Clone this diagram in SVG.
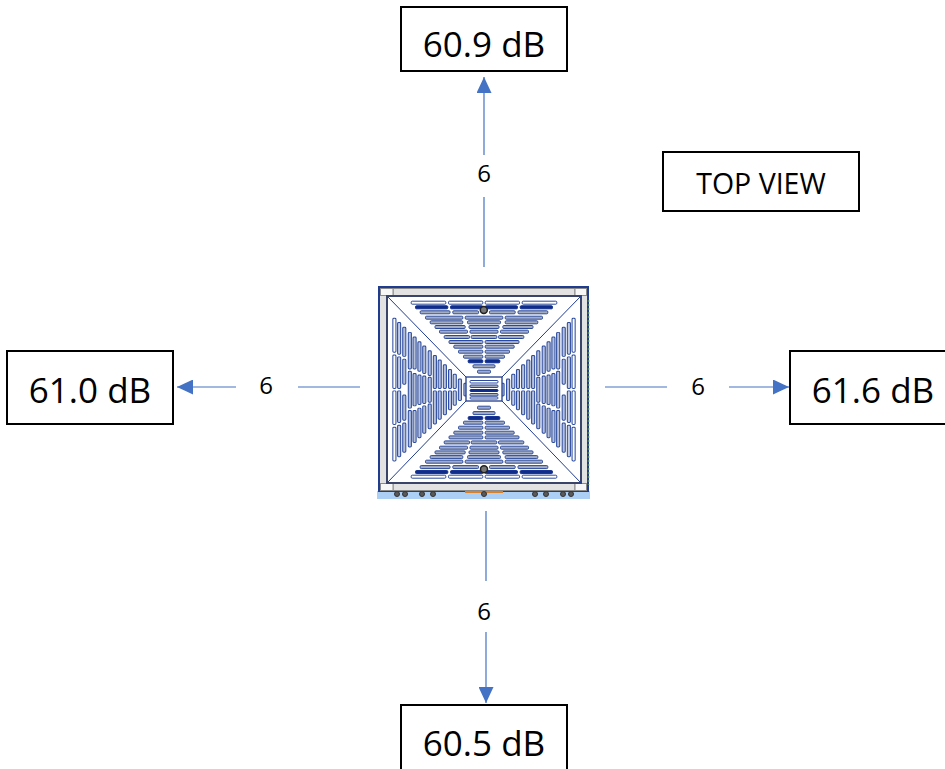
<svg xmlns="http://www.w3.org/2000/svg" xmlns:xlink="http://www.w3.org/1999/xlink" width="945" height="769" viewBox="0 0 945 769">
<style>
.box{fill:#fff;stroke:#000;stroke-width:2}
.val{font-family:"Open Sans","Noto Sans","Liberation Sans",sans-serif;font-size:35px;fill:#000;text-anchor:middle}
.lab{font-family:"Open Sans","Noto Sans","Liberation Sans",sans-serif;font-size:24px;fill:#000;text-anchor:middle}
.tv{font-family:"Open Sans","Noto Sans","Liberation Sans",sans-serif;font-size:28.5px;fill:#000;text-anchor:middle}
.ln{stroke:#4472c4;stroke-width:1.2;fill:none}
.s{fill:var(--g,#a4acc0);stroke:#2b4a9e;stroke-width:1}
.w{fill:#fff;stroke:#2b4a9e;stroke-width:1}
.d{fill:var(--k,#0f2d8c);stroke:var(--e,#0f2d8c);stroke-width:1}
.frame{fill:#e2e2e2;stroke:#8a8a8a;stroke-width:1}
.dg{stroke:#1f3c8f;stroke-width:1;fill:none}
.foot{fill:#5a5a5a;stroke:#333;stroke-width:1}
.side{--g:#b6c0d8;--k:#c4cde0;--e:#2b4a9e}
</style>
<defs>
<marker id="ah" markerUnits="userSpaceOnUse" markerWidth="16" markerHeight="15" refX="16" refY="7.5" orient="auto"><path d="M0 0L16 7.5L0 15Z" fill="#4472c4"/></marker>
<g id="tri">
<rect class="w" x="-72.8" y="-88.5" width="34.6" height="3" rx="1"/><rect class="w" x="-35.5" y="-88.5" width="34.3" height="3" rx="1"/><rect class="w" x="1.2" y="-88.5" width="34.3" height="3" rx="1"/><rect class="w" x="38.2" y="-88.5" width="34.6" height="3" rx="1"/>
<rect class="d" x="-68.5" y="-83.9" width="32.3" height="3" rx="1"/><rect class="d" x="-33.5" y="-83.9" width="32.3" height="3" rx="1"/><rect class="d" x="1.2" y="-83.9" width="32.3" height="3" rx="1"/><rect class="d" x="36.2" y="-83.9" width="32.3" height="3" rx="1"/>
<rect class="s" x="-63.8" y="-78.9" width="29.8" height="3" rx="1"/><rect class="s" x="-31.2" y="-78.9" width="25.7" height="3" rx="1"/><rect class="s" x="5.5" y="-78.9" width="25.7" height="3" rx="1"/><rect class="s" x="34" y="-78.9" width="29.8" height="3" rx="1"/>
<rect class="s" x="-58.5" y="-73.5" width="37.3" height="3" rx="1"/><rect class="s" x="-18.8" y="-73.5" width="37.6" height="3" rx="1"/><rect class="s" x="21.2" y="-73.5" width="37.3" height="3" rx="1"/>
<rect class="s" x="-53.8" y="-68.9" width="32.6" height="3" rx="1"/><rect class="s" x="-16.5" y="-68.9" width="33" height="3" rx="1"/><rect class="s" x="21.2" y="-68.9" width="32.6" height="3" rx="1"/>
<rect class="s" x="-49" y="-64.2" width="30.2" height="3" rx="1"/><rect class="s" x="-15" y="-64.2" width="30" height="3" rx="1"/><rect class="s" x="18.8" y="-64.2" width="30.2" height="3" rx="1"/>
<rect class="s" x="-44.5" y="-59.5" width="28" height="3" rx="1"/><rect class="s" x="-14" y="-59.5" width="28" height="3" rx="1"/><rect class="s" x="16.5" y="-59.5" width="28" height="3" rx="1"/>
<rect class="s" x="-39.8" y="-54.2" width="25.3" height="3" rx="1"/><rect class="s" x="-12.8" y="-54.2" width="25.6" height="3" rx="1"/><rect class="s" x="14.5" y="-54.2" width="25.3" height="3" rx="1"/>
<rect class="s" x="-35" y="-49.2" width="33.8" height="3" rx="1"/><rect class="s" x="1.2" y="-49.2" width="33.8" height="3" rx="1"/>
<rect class="s" x="-30.2" y="-44.5" width="29" height="3" rx="1"/><rect class="s" x="1.2" y="-44.5" width="29" height="3" rx="1"/>
<rect class="s" x="-25.5" y="-39.5" width="24.3" height="3" rx="1"/><rect class="s" x="1.2" y="-39.5" width="24.3" height="3" rx="1"/>
<rect class="s" x="-20.5" y="-34.5" width="19.3" height="3" rx="1"/><rect class="s" x="1.2" y="-34.5" width="19.3" height="3" rx="1"/>
<rect class="d" x="-15.8" y="-29.9" width="14.6" height="3" rx="1"/><rect class="d" x="1.2" y="-29.9" width="14.6" height="3" rx="1"/>
<rect class="s" x="-11" y="-24.9" width="22" height="3" rx="1"/>
<rect class="s" x="-6.5" y="-19.5" width="13" height="3" rx="1"/>
</g>
</defs>

<g id="connectors">
<line class="ln" x1="484" y1="267" x2="484" y2="197"/>
<line class="ln" x1="484" y1="155" x2="484" y2="77" marker-end="url(#ah)"/>
<line class="ln" x1="360" y1="387" x2="298" y2="387"/>
<line class="ln" x1="236" y1="387" x2="177" y2="387" marker-end="url(#ah)"/>
<line class="ln" x1="605" y1="387" x2="667" y2="387"/>
<line class="ln" x1="729" y1="387" x2="789" y2="387" marker-end="url(#ah)"/>
<line class="ln" x1="486" y1="511" x2="486" y2="581"/>
<line class="ln" x1="486" y1="632" x2="486" y2="703" marker-end="url(#ah)"/>
<text class="lab" x="484" y="182">6</text>
<text class="lab" x="266" y="394">6</text>
<text class="lab" x="698" y="395">6</text>
<text class="lab" x="484" y="620">6</text>
</g>

<g id="node-top"><rect class="box" x="401" y="7" width="166" height="64"/><text class="val" x="484" y="57">60.9 dB</text></g>
<g id="node-left"><rect class="box" x="7" y="351" width="166" height="73"/><text class="val" x="90" y="403">61.0 dB</text></g>
<g id="node-right"><rect class="box" x="790" y="351" width="166" height="73"/><text class="val" x="873" y="403">61.6 dB</text></g>
<g id="node-bottom"><rect class="box" x="401" y="705" width="166" height="73"/><text class="val" x="484" y="756">60.5 dB</text></g>
<g id="node-view"><rect class="box" x="663" y="152" width="196" height="59"/><text class="tv" x="761" y="194">TOP VIEW</text></g>

<g id="node-device">
<rect x="377" y="491" width="213" height="8" fill="#acd0f5"/>
<rect x="379" y="287" width="209" height="204" fill="#fff" stroke="#1f3c8f" stroke-width="2"/>
<line x1="588.5" y1="300" x2="588.5" y2="485" stroke="#4f7f5a" stroke-width="1.5" stroke-dasharray="2 2"/>
<rect x="380" y="288" width="207" height="202" fill="#e2e2e2"/>
<rect class="frame" x="393" y="288.5" width="182" height="7"/>
<rect class="frame" x="393" y="483.5" width="182" height="7"/>
<rect class="frame" x="380.5" y="288.5" width="12.5" height="7" style="fill:#f7f7f7"/>
<rect class="frame" x="575" y="288.5" width="11.5" height="7" style="fill:#f7f7f7"/>
<rect class="frame" x="380.5" y="483.5" width="12.5" height="7" style="fill:#f7f7f7"/>
<rect class="frame" x="575" y="483.5" width="11.5" height="7" style="fill:#f7f7f7"/>
<rect x="465" y="491" width="38" height="2" fill="#d9822b"/>
<g class="foot">
<circle cx="397" cy="494" r="2.5"/><circle cx="405" cy="494" r="2.5"/><circle cx="422" cy="494" r="2.5"/><circle cx="433" cy="494" r="2.5"/><circle cx="484" cy="494" r="2.5"/><circle cx="535" cy="494" r="2.5"/><circle cx="546" cy="494" r="2.5"/><circle cx="563" cy="494" r="2.5"/><circle cx="571" cy="494" r="2.5"/>
</g>
<rect x="387" y="296" width="194" height="187" fill="#fff" stroke="#3a4468" stroke-width="2"/>
<line class="dg" x1="387" y1="296" x2="466" y2="377"/>
<line class="dg" x1="581" y1="296" x2="502" y2="377"/>
<line class="dg" x1="387" y1="483" x2="466" y2="401"/>
<line class="dg" x1="581" y1="483" x2="502" y2="401"/>
<use xlink:href="#tri" href="#tri" transform="translate(484 389.7)"/>
<use xlink:href="#tri" href="#tri" transform="translate(484 389.7) scale(1 -1)"/>
<use class="side" xlink:href="#tri" href="#tri" transform="translate(484 389.7) rotate(-90) scale(0.98 1.03)"/>
<use class="side" xlink:href="#tri" href="#tri" transform="translate(484 389.7) rotate(90) scale(0.98 1.03)"/>
<rect x="466" y="377" width="36" height="24" fill="#fff" stroke="#1f3c8f" stroke-width="1.3"/>
<rect class="w" x="470" y="380.5" width="28" height="2.5" rx="1"/>
<rect class="s" x="470" y="385" width="28" height="2.5" rx="1"/>
<rect class="d" x="470" y="389.5" width="28" height="2" rx="1"/>
<rect class="s" x="470" y="393.5" width="28" height="2.5" rx="1"/>
<rect class="w" x="470" y="397" width="28" height="2" rx="1"/>
<circle cx="483.8" cy="310" r="3.5" fill="#777" stroke="#222" stroke-width="1.5"/>
<circle cx="484" cy="469.3" r="3.5" fill="#777" stroke="#222" stroke-width="1.5"/>
</g>
</svg>
